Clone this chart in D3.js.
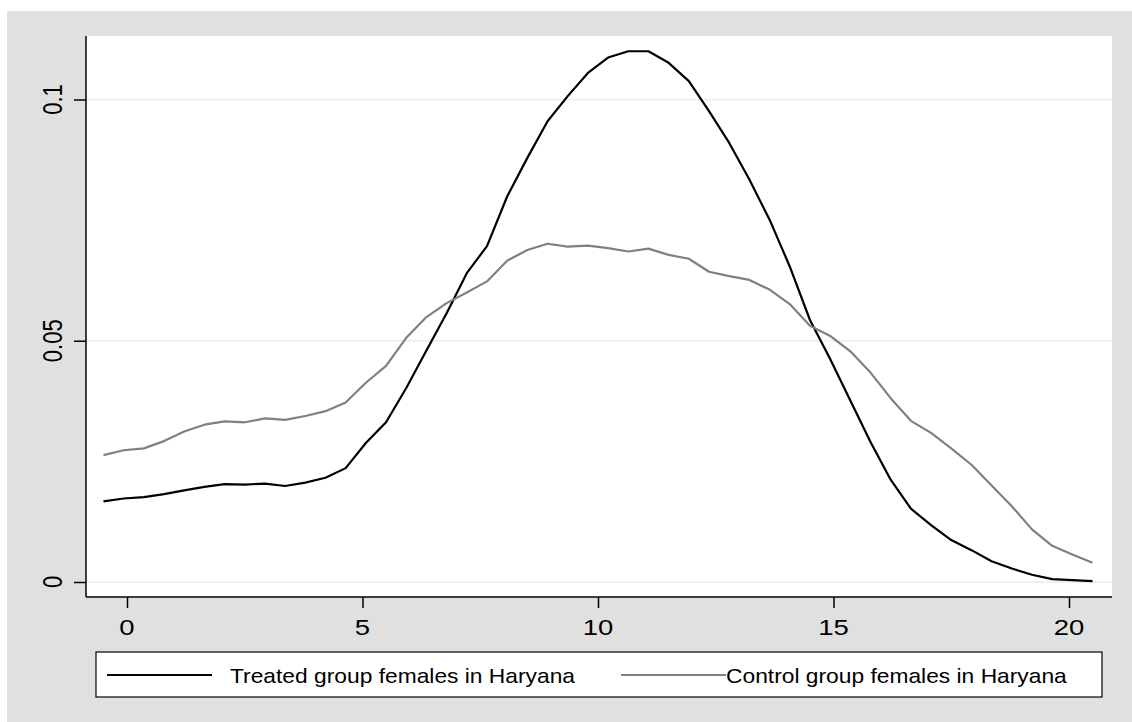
<!DOCTYPE html>
<html>
<head>
<meta charset="utf-8">
<script src="https://cdn.jsdelivr.net/npm/d3@7"></script>
<style>
  html, body { margin: 0; padding: 0; background: #ffffff; }
  svg { display: block; font-family: "Liberation Sans", Arial, Helvetica, sans-serif; }
</style>
</head>
<body>
<svg id="chart" width="1132" height="722"></svg>
<script>
// ---- data ----
const xValues = [-0.5, -0.071, 0.357, 0.786, 1.214, 1.643, 2.071, 2.5, 2.929, 3.357,
  3.786, 4.214, 4.643, 5.071, 5.5, 5.929, 6.357, 6.786, 7.214, 7.643,
  8.071, 8.5, 8.929, 9.357, 9.786, 10.214, 10.643, 11.071, 11.5, 11.929,
  12.357, 12.786, 13.214, 13.643, 14.071, 14.5, 14.929, 15.357, 15.786, 16.214,
  16.643, 17.071, 17.5, 17.929, 18.357, 18.786, 19.214, 19.643, 20.071, 20.5];
const treated = [0.0167, 0.0173, 0.0176, 0.0182, 0.0190, 0.0197, 0.0203, 0.0202, 0.0204, 0.0199,
  0.0206, 0.0216, 0.0236, 0.0288, 0.0331, 0.0402, 0.0480, 0.0557, 0.0640, 0.0696,
  0.0799, 0.0879, 0.0955, 0.1007, 0.1055, 0.1087, 0.1100, 0.1100, 0.1076, 0.1038,
  0.0976, 0.0910, 0.0834, 0.0751, 0.0654, 0.0543, 0.0462, 0.0376, 0.0290, 0.0212,
  0.0152, 0.0118, 0.0087, 0.0066, 0.0043, 0.0028, 0.0015, 0.0006, 0.0004, 0.0002];
const control = [0.0263, 0.0273, 0.0277, 0.0292, 0.0312, 0.0326, 0.0333, 0.0331, 0.0339, 0.0336,
  0.0344, 0.0354, 0.0372, 0.0413, 0.0448, 0.0506, 0.0549, 0.0578, 0.0600, 0.0623,
  0.0666, 0.0688, 0.0701, 0.0695, 0.0697, 0.0692, 0.0685, 0.0691, 0.0678, 0.0670,
  0.0643, 0.0634, 0.0626, 0.0606, 0.0576, 0.0531, 0.0510, 0.0478, 0.0434, 0.0381,
  0.0334, 0.0309, 0.0277, 0.0243, 0.0200, 0.0157, 0.0109, 0.0075, 0.0057, 0.0040];
const xTicks = [0, 5, 10, 15, 20];
const yTicks = [0, 0.05, 0.1];
const yTickLabels = ["0", "0.05", "0.1"];
const seriesNames = ["Treated group females in Haryana", "Control group females in Haryana"];
const seriesColors = ["#000000", "#808080"];

// ---- layout ----
const svg = d3.select("#chart");
const W = 1132, H = 722;
const plot = { left: 86, right: 1112, top: 36, bottom: 597 };

const x = d3.scaleLinear().domain([-0.8705, 20.913]).range([plot.left, plot.right]);
const y = d3.scaleLinear().domain([-0.00311, 0.11316]).range([plot.bottom, plot.top]);

// outer background
svg.append("rect").attr("x", 0).attr("y", 0).attr("width", W).attr("height", H).attr("fill", "#ffffff");
svg.append("rect").attr("x", 7).attr("y", 11).attr("width", W - 7).attr("height", H - 11)
  .attr("fill", "#e0e0e0");
// plot region
svg.append("rect").attr("x", plot.left).attr("y", plot.top)
  .attr("width", plot.right - plot.left).attr("height", plot.bottom - plot.top).attr("fill", "#ffffff");

// gridlines
svg.append("g").selectAll("line").data(yTicks).join("line")
  .attr("x1", plot.left).attr("x2", plot.right)
  .attr("y1", d => y(d)).attr("y2", d => y(d))
  .attr("stroke", "#eaf2f3").attr("stroke-width", 2);

// lines
const line = d3.line().x(d => x(d[0])).y(d => y(d[1]));
[treated, control].forEach((vals, k) => {
  const pts = xValues.map((xv, i) => [xv, vals[i]]);
  svg.append("path").datum(pts).attr("d", line)
    .attr("fill", "none").attr("stroke", seriesColors[k]).attr("stroke-width", 2.2)
    .attr("stroke-linejoin", "round");
});

// y axis
const yAxis = d3.axisLeft(y).tickValues(yTicks).tickSize(12).tickFormat((d, i) => yTickLabels[i]);
const gy = svg.append("g").attr("transform", `translate(${plot.left},0)`).call(yAxis);
gy.select(".domain").attr("stroke", "#000").attr("stroke-width", 1.5)
  .attr("d", `M0,${plot.bottom}V${plot.top}`);
gy.selectAll(".tick line").attr("stroke", "#000").attr("stroke-width", 1.5);
gy.selectAll(".tick text").remove();
svg.append("g").selectAll("text").data(yTicks).join("text")
  .attr("transform", d => `translate(62,${y(d)}) scale(1.25,1) rotate(-90)`)
  .attr("text-anchor", "middle")
  .attr("font-size", 22).attr("fill", "#000")
  .text((d, i) => yTickLabels[i]);

// x axis
const xAxis = d3.axisBottom(x).tickValues(xTicks).tickSize(11).tickFormat(d3.format("d"));
const gx = svg.append("g").attr("transform", `translate(0,${plot.bottom})`).call(xAxis);
gx.select(".domain").attr("stroke", "#000").attr("stroke-width", 1.5)
  .attr("d", `M${plot.left},0H${plot.right}`);
gx.selectAll(".tick line").attr("stroke", "#000").attr("stroke-width", 1.5);
gx.selectAll(".tick text").remove();
svg.append("g").selectAll("text").data(xTicks).join("text")
  .attr("transform", d => `translate(${x(d)},635) scale(1.25,1)`)
  .attr("text-anchor", "middle")
  .attr("font-size", 22).attr("fill", "#000")
  .text(d => d);

// legend
const lg = svg.append("g");
lg.append("rect").attr("x", 96).attr("y", 652).attr("width", 1006).attr("height", 45)
  .attr("fill", "#ffffff").attr("stroke", "#000").attr("stroke-width", 1.2);
const legendItems = [
  { x1: 107, x2: 212, tx: 230 },
  { x1: 621, x2: 726, tx: 726 }
];
legendItems.forEach((it, k) => {
  lg.append("line").attr("x1", it.x1).attr("x2", it.x2).attr("y1", 675).attr("y2", 675)
    .attr("stroke", seriesColors[k]).attr("stroke-width", 2.2);
  lg.append("text").attr("transform", `translate(${it.tx},682.5) scale(1.14,1)`)
    .attr("font-size", 20).attr("fill", "#000").text(seriesNames[k]);
});
</script>
</body>
</html>
